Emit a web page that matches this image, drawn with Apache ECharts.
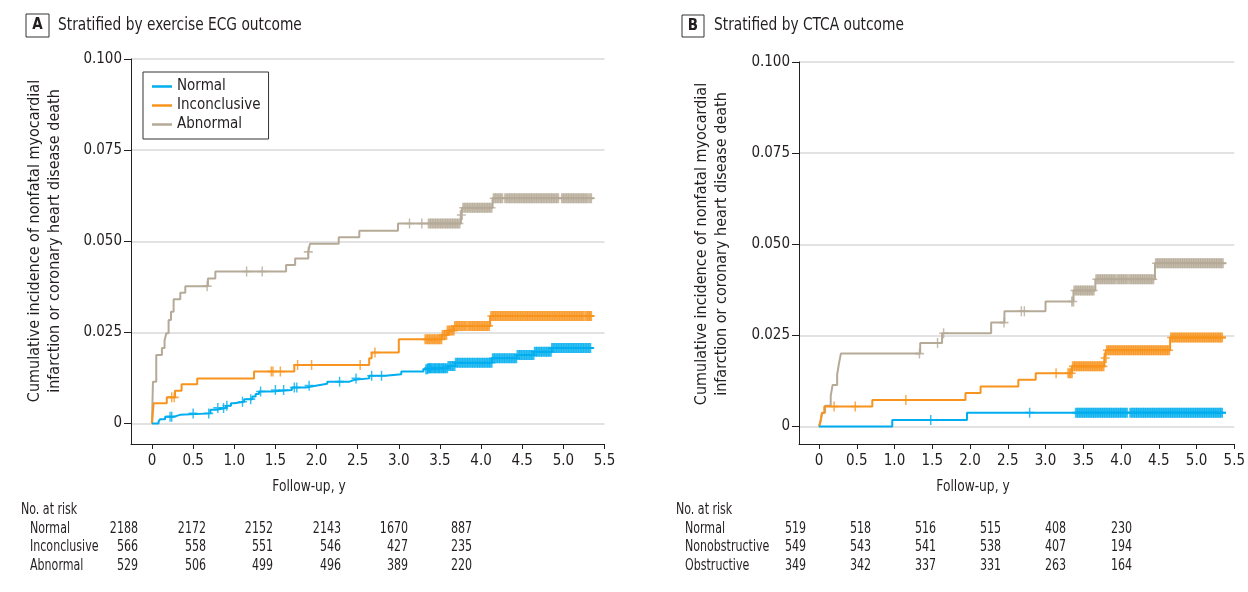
<!DOCTYPE html>
<html><head><meta charset="utf-8">
<script src="https://cdn.jsdelivr.net/npm/echarts@6/dist/echarts.min.js"></script>
<style>html,body{margin:0;padding:0;background:#fff}#c{width:1248px;height:592px}</style>
</head><body><div id="c"></div>
<script>
// ---------- DATA ----------
const xTicks = [0, 0.5, 1.0, 1.5, 2.0, 2.5, 3.0, 3.5, 4.0, 4.5, 5.0, 5.5];
const yTicks = [0, 0.025, 0.05, 0.075, 0.1];

// Panel A: stratified by exercise ECG outcome  [time (y), cumulative incidence]
const aNormalSteps = [[0,0],[0.08,0.0006],[0.10,0.0012],[0.16,0.0019],[0.27,0.0024],[0.34,0.0028],[0.71,0.0038],[0.78,0.0043],[0.90,0.0049],[0.96,0.0056],[1.00,0.0060],[1.12,0.0067],[1.22,0.0074],[1.26,0.0081],[1.30,0.0088],[1.46,0.0092],[1.70,0.0099],[1.87,0.0104],[1.99,0.0109],[2.13,0.0115],[2.40,0.0120],[2.46,0.0124],[2.64,0.0131],[2.84,0.0135],[3.03,0.0143],[3.30,0.0149],[3.36,0.0152],[3.60,0.0158],[3.685,0.0167],[4.13,0.0179],[4.435,0.0188],[4.64,0.0197],[4.86,0.0207],[5.37,0.0207]];
const aInconclusiveSteps = [[0,0],[0.02,0.0056],[0.18,0.0072],[0.28,0.0090],[0.36,0.0108],[0.55,0.0124],[1.24,0.0143],[1.73,0.0161],[2.64,0.0179],[2.67,0.0195],[3.00,0.0231],[3.52,0.0243],[3.60,0.0255],[3.67,0.0268],[4.11,0.0295],[5.37,0.0295]];
const aAbnormalSteps = [[0,0],[0.012,0.0115],[0.052,0.0188],[0.121,0.0207],[0.153,0.0228],[0.174,0.0248],[0.202,0.0284],[0.231,0.0307],[0.263,0.0341],[0.344,0.0359],[0.405,0.0377],[0.68,0.0398],[0.77,0.0417],[1.63,0.0435],[1.74,0.0453],[1.90,0.0471],[1.92,0.0493],[2.27,0.0511],[2.52,0.0529],[2.99,0.0549],[3.755,0.0572],[3.77,0.0592],[4.14,0.0618],[5.37,0.0618]];

const aNormalCensor = [0.22,0.24,0.50,0.69,0.80,0.87,0.91,1.10,1.20,1.32,1.50,1.60,1.73,1.76,1.91,2.28,2.48,2.67,2.79,3.34,3.36,3.38,3.40,3.43,3.45,3.48,3.50,3.53,3.55,3.58,3.61,3.64,3.67,3.70,3.73,3.76,3.79,3.82,3.85,3.88,3.91,3.94,3.97,4.00,4.03,4.06,4.09,4.12,4.15,4.18,4.21,4.24,4.27,4.30,4.33,4.36,4.39,4.42,4.45,4.48,4.51,4.54,4.57,4.60,4.63,4.66,4.69,4.72,4.75,4.78,4.81,4.84,4.87,4.90,4.93,4.96,4.99,5.02,5.05,5.08,5.11,5.14,5.17,5.20,5.23,5.26,5.29,5.32];
const aInconclusiveCensor = [0.24,0.27,1.45,1.47,1.56,1.77,1.94,2.53,2.71,3.33,3.36,3.39,3.42,3.45,3.48,3.51,3.54,3.57,3.60,3.63,3.66,3.69,3.72,3.75,3.78,3.81,3.85,3.88,3.91,3.94,3.97,4.00,4.03,4.06,4.09,4.13,4.16,4.19,4.22,4.25,4.28,4.31,4.34,4.37,4.40,4.43,4.46,4.49,4.52,4.55,4.58,4.61,4.64,4.67,4.70,4.73,4.76,4.79,4.82,4.85,4.88,4.91,4.94,4.97,5.00,5.03,5.06,5.09,5.12,5.15,5.18,5.21,5.24,5.28,5.31,5.33];
const aAbnormalCensor = [0.67,1.15,1.34,1.90,3.13,3.28,3.37,3.40,3.43,3.46,3.49,3.52,3.55,3.58,3.61,3.64,3.67,3.70,3.73,3.76,3.79,3.82,3.85,3.88,3.91,3.94,3.97,4.00,4.03,4.06,4.09,4.12,4.16,4.19,4.22,4.25,4.30,4.33,4.36,4.39,4.42,4.45,4.48,4.51,4.54,4.57,4.60,4.63,4.66,4.69,4.72,4.75,4.78,4.81,4.84,4.87,4.90,4.93,4.99,5.02,5.05,5.08,5.11,5.14,5.17,5.20,5.23,5.26,5.29,5.33];

// Panel B: stratified by CTCA outcome
const bNormalSteps = [[0,0],[0.97,0.0018],[1.96,0.0038],[5.39,0.0038]];
const bNonobstructiveSteps = [[0,0],[0.02,0.0014],[0.04,0.0037],[0.07,0.0055],[0.706,0.0073],[1.94,0.0092],[2.14,0.0110],[2.64,0.0128],[2.87,0.0146],[3.35,0.0165],[3.78,0.0188],[3.80,0.0209],[4.65,0.0244],[5.39,0.0244]];
const bObstructiveSteps = [[0,0],[0.02,0.0014],[0.04,0.0038],[0.08,0.0057],[0.155,0.0084],[0.18,0.0114],[0.24,0.0142],[0.265,0.0174],[0.29,0.0200],[1.34,0.0229],[1.63,0.0256],[2.28,0.0285],[2.456,0.0316],[3.00,0.0343],[3.37,0.0373],[3.66,0.0404],[4.45,0.0448],[5.39,0.0448]];

const bNormalCensor = [1.48,2.79,3.41,3.44,3.47,3.50,3.53,3.56,3.59,3.62,3.65,3.68,3.71,3.74,3.77,3.80,3.83,3.86,3.89,3.92,3.95,3.98,4.01,4.04,4.07,4.13,4.16,4.19,4.22,4.25,4.28,4.31,4.34,4.37,4.40,4.43,4.46,4.49,4.52,4.55,4.58,4.61,4.64,4.67,4.70,4.73,4.76,4.79,4.82,4.85,4.88,4.91,4.94,4.97,5.00,5.03,5.06,5.09,5.12,5.15,5.18,5.21,5.24,5.27,5.30,5.33];
const bNonobstructiveCensor = [0.20,0.48,1.15,3.14,3.31,3.34,3.37,3.40,3.43,3.46,3.49,3.52,3.55,3.58,3.61,3.64,3.67,3.70,3.73,3.76,3.79,3.82,3.85,3.88,3.91,3.94,3.97,4.00,4.03,4.06,4.09,4.12,4.15,4.18,4.21,4.24,4.27,4.30,4.33,4.36,4.39,4.42,4.45,4.48,4.51,4.54,4.57,4.60,4.63,4.67,4.70,4.73,4.76,4.79,4.82,4.85,4.88,4.91,4.94,4.97,5.00,5.03,5.06,5.09,5.12,5.15,5.18,5.21,5.24,5.27,5.30,5.33];
const bObstructiveCensor = [1.33,1.57,1.65,2.45,2.68,2.72,3.36,3.39,3.42,3.45,3.48,3.51,3.54,3.57,3.60,3.63,3.68,3.71,3.74,3.77,3.80,3.83,3.86,3.89,3.92,3.96,3.99,4.02,4.05,4.08,4.12,4.15,4.18,4.21,4.24,4.27,4.30,4.33,4.36,4.39,4.42,4.47,4.50,4.53,4.56,4.59,4.62,4.65,4.68,4.71,4.74,4.77,4.80,4.83,4.86,4.89,4.92,4.95,4.98,5.01,5.04,5.07,5.10,5.13,5.16,5.19,5.22,5.25,5.28,5.31,5.34];

// Number at risk tables
const aRiskNormal = [2188, 2172, 2152, 2143, 1670, 887];
const aRiskInconclusive = [566, 558, 551, 546, 427, 235];
const aRiskAbnormal = [529, 506, 499, 496, 389, 220];
const bRiskNormal = [519, 518, 516, 515, 408, 230];
const bRiskNonobstructive = [549, 543, 541, 538, 407, 194];
const bRiskObstructive = [349, 342, 337, 331, 263, 164];

// ---------- STYLE / LAYOUT ----------
const FONT = "'DejaVu Sans Condensed','Liberation Sans Narrow','Roboto',sans-serif";
const TXT = '#231F20';
const BLUE = '#00AEEF', ORANGE = '#F7941D', GRAY = '#B5AA97';
const PLUS = 'path://M4.2,0H5.8V4.2H10V5.8H5.8V10H4.2V5.8H0V4.2H4.2Z';
const PLUS_BOLD = 'path://M3.2,0H6.8V4.2H10V5.8H6.8V10H3.2V5.8H0V4.2H3.2Z';

function valAt(steps, t) { let v = 0; for (const p of steps) { if (p[0] <= t) v = p[1]; } return v; }

function stepSeries(name, steps, color, gi, z) {
  return { name, type: 'line', step: 'end', xAxisIndex: gi, yAxisIndex: gi, data: steps,
    showSymbol: false, symbol: 'none', color, lineStyle: { color, width: 2 }, z: z, animation: false, silent: true };
}
// censoring marks: isolated ones drawn thin; marks inside long packed runs drawn with a bolder stem
function censorSeries(name, steps, times, color, gi, z) {
  const runId = []; let id = 0;
  times.forEach((t, i) => { if (i > 0 && t - times[i - 1] >= 0.05) id++; runId.push(id); });
  const runLen = {}; runId.forEach(r => { runLen[r] = (runLen[r] || 0) + 1; });
  const data = times.map((t, i) => ({ value: [t, valAt(steps, t)], symbol: runLen[runId[i]] >= 4 ? PLUS_BOLD : PLUS }));
  return { name: name + ' censored', type: 'scatter', xAxisIndex: gi, yAxisIndex: gi,
    data, symbolSize: [9, 10], itemStyle: { color }, z: z, animation: false, silent: true };
}

function xAxisCfg(gi, min) {
  return { type: 'value', gridIndex: gi, min: min, max: 5.5,
    axisLine: { show: true, onZero: false, lineStyle: { color: TXT, width: 1 } },
    axisTick: { show: true, length: 5, customValues: xTicks, lineStyle: { color: TXT } },
    axisLabel: { customValues: xTicks, margin: 10, color: TXT, fontFamily: FONT, fontSize: 15,
      formatter: v => v === 0 ? '0' : v.toFixed(1) },
    splitLine: { show: false } };
}
function yAxisCfg(gi, min) {
  return { type: 'value', gridIndex: gi, min: min, max: 0.1,
    axisLine: { show: true, onZero: false, lineStyle: { color: TXT, width: 1 } },
    axisTick: { show: true, length: 7, customValues: yTicks, lineStyle: { color: TXT } },
    axisLabel: { customValues: yTicks, margin: 9, color: TXT, fontFamily: FONT, fontSize: 15,
      formatter: v => v === 0 ? '0' : v.toFixed(3) },
    splitLine: { show: true, lineStyle: { color: '#D9D9D9', width: 1.5 } } };
}

const yName = 'Cumulative incidence of nonfatal myocardial\ninfarction or coronary heart disease death';

function txt(x, y, text, opts, sx) {
  return { type: 'text', x, y, scaleX: sx || 1, silent: true,
    style: Object.assign({ x: 0, y: 0, text, fill: TXT, font: '15px ' + FONT, textAlign: 'left', textVerticalAlign: 'middle' }, opts || {}) };
}

const graphics = [];
// panel headers
graphics.push({ type: 'rect', shape: { x: 26, y: 14, width: 23, height: 23 }, style: { fill: 'none', stroke: '#333', lineWidth: 1 }, silent: true });
graphics.push(txt(37.5, 25.5, 'A', { font: 'bold 15px ' + FONT, textAlign: 'center' }));
graphics.push(txt(58, 25.5, 'Stratified by exercise ECG outcome', { font: '17px ' + FONT }, 0.9));
graphics.push({ type: 'rect', shape: { x: 682, y: 15, width: 22, height: 22 }, style: { fill: 'none', stroke: '#333', lineWidth: 1 }, silent: true });
graphics.push(txt(693, 26, 'B', { font: 'bold 15px ' + FONT, textAlign: 'center' }));
graphics.push(txt(714, 26, 'Stratified by CTCA outcome', { font: '17px ' + FONT }, 0.9));
// y axis titles
graphics.push({ type: 'text', x: 45, y: 241, rotation: Math.PI / 2, silent: true,
  style: { text: yName, fill: TXT, font: '16px ' + FONT, textAlign: 'center', textVerticalAlign: 'middle', lineHeight: 20 } });
graphics.push({ type: 'text', x: 712, y: 244, rotation: Math.PI / 2, silent: true,
  style: { text: yName, fill: TXT, font: '16px ' + FONT, textAlign: 'center', textVerticalAlign: 'middle', lineHeight: 20 } });
// x axis titles
graphics.push(txt(309, 487, 'Follow-up, y', { font: '16px ' + FONT, textAlign: 'center' }, 0.85));
graphics.push(txt(973, 487, 'Follow-up, y', { font: '16px ' + FONT, textAlign: 'center' }, 0.85));
// risk tables
function riskTable(x0, xRow, cols, rows) {
  graphics.push(txt(x0, 510, 'No. at risk', null, 0.82));
  rows.forEach((r, i) => {
    const y = 529 + i * 18.5;
    graphics.push(txt(xRow, y, r[0], null, 0.82));
    r[1].forEach((v, j) => graphics.push(txt(cols[j], y, String(v), { textAlign: 'right' }, 0.82)));
  });
}
riskTable(21, 30, [138, 206, 273, 341, 408, 472],
  [['Normal', aRiskNormal], ['Inconclusive', aRiskInconclusive], ['Abnormal', aRiskAbnormal]]);
riskTable(676, 685, [806, 871, 936, 1001, 1066, 1132],
  [['Normal', bRiskNormal], ['Nonobstructive', bRiskNonobstructive], ['Obstructive', bRiskObstructive]]);

const option = {
  backgroundColor: '#fff',
  animation: false,
  grid: [
    { left: 131, top: 59, width: 473.5, height: 385, containLabel: false },
    { left: 799, top: 62, width: 436, height: 382, containLabel: false }
  ],
  xAxis: [xAxisCfg(0, -0.255), xAxisCfg(1, -0.265)],
  yAxis: [yAxisCfg(0, -0.0056), yAxisCfg(1, -0.0048)],
  legend: {
    data: ['Normal', 'Inconclusive', 'Abnormal'], orient: 'vertical', left: 143, top: 72,
    icon: 'rect', itemWidth: 20, itemHeight: 2.5, itemGap: 4, padding: [7, 8, 7, 9],
    borderColor: '#333', borderWidth: 1, selectedMode: false,
    textStyle: { color: TXT, fontFamily: FONT, fontSize: 15, lineHeight: 15 }
  },
  series: [
    stepSeries('Abnormal', aAbnormalSteps, GRAY, 0, 3),
    stepSeries('Inconclusive', aInconclusiveSteps, ORANGE, 0, 4),
    stepSeries('Normal', aNormalSteps, BLUE, 0, 5),
    censorSeries('Abnormal', aAbnormalSteps, aAbnormalCensor, GRAY, 0, 3),
    censorSeries('Inconclusive', aInconclusiveSteps, aInconclusiveCensor, ORANGE, 0, 4),
    censorSeries('Normal', aNormalSteps, aNormalCensor, BLUE, 0, 5),
    stepSeries('Obstructive', bObstructiveSteps, GRAY, 1, 3),
    stepSeries('Nonobstructive', bNonobstructiveSteps, ORANGE, 1, 4),
    stepSeries('Normal', bNormalSteps, BLUE, 1, 5),
    censorSeries('Obstructive', bObstructiveSteps, bObstructiveCensor, GRAY, 1, 3),
    censorSeries('Nonobstructive', bNonobstructiveSteps, bNonobstructiveCensor, ORANGE, 1, 4),
    censorSeries('Normal', bNormalSteps, bNormalCensor, BLUE, 1, 5)
  ],
  graphic: graphics
};
const chart = echarts.init(document.getElementById('c'), null, { renderer: 'canvas' });
chart.setOption(option);
</script></body></html>
